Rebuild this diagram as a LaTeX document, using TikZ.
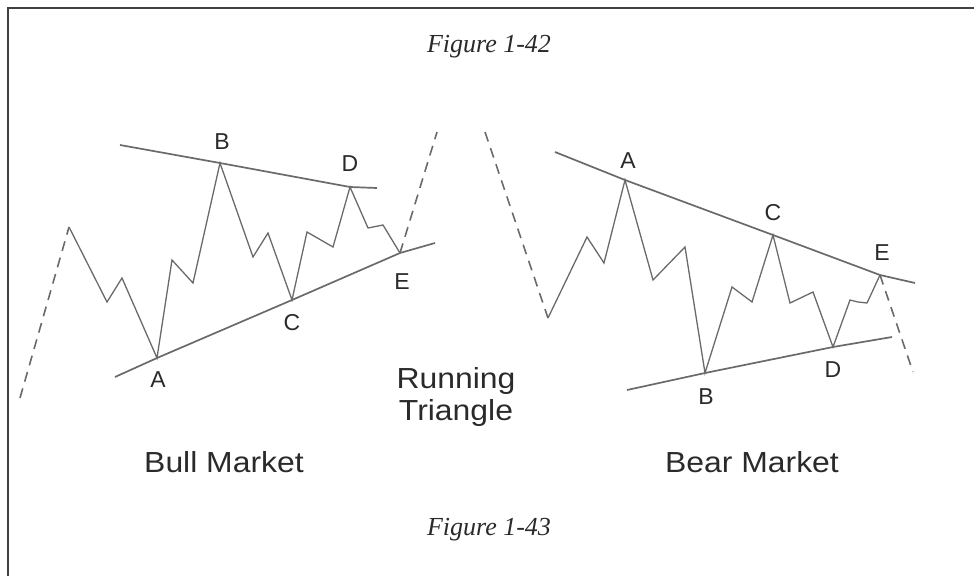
\documentclass[tikz,border=0pt]{standalone}
\usepackage{fontspec}
\setmainfont{Liberation Serif}
\setsansfont{Liberation Sans}
\usetikzlibrary{positioning}
\definecolor{wavegray}{HTML}{6A6A6A}
\definecolor{inkgray}{HTML}{2A2A2A}

\begin{document}
\begin{tikzpicture}[x=1pt, y=-1pt,
    wave/.style={wavegray, line width=1.3pt, line join=miter},
    trend/.style={wavegray, line width=1.7pt},
    lead/.style={wavegray, line width=1.6pt, dash pattern=on 10pt off 7pt},
    pivot/.style={font=\sffamily\fontsize{23}{23}\selectfont, text=inkgray, inner sep=0pt},
    market/.style={font=\sffamily\fontsize{29}{32}\selectfont, text=inkgray, align=center, xscale=1.1},
    caption/.style={font=\itshape\fontsize{26}{26}\selectfont, text=inkgray}
  ]
  \useasboundingbox (0,0) rectangle (974,576);
  % Frame (open to the right and bottom)
  \draw[line width=2.2pt, black!75] (8,576) -- (8,8) -- (974,8);

  % Bull market pivots
  \coordinate (bullS) at (20,398);
  \coordinate (bull0) at (69,227);
  \coordinate (bullA) at (157,358);
  \coordinate (bullB) at (220,163);
  \coordinate (bullC) at (292,300);
  \coordinate (bullD) at (350,187);
  \coordinate (bullE) at (400,253);
  \coordinate (bullX) at (437,132);

  % Bull market waves
  \draw[lead] (bullS) -- (bull0);
  \draw[wave] (bull0) -- (107,302) -- (122,278) -- (bullA) -- (172,260) -- (193,283)
    -- (bullB) -- (253,257) -- (268,233) -- (bullC) -- (307,232) -- (333,247)
    -- (bullD) -- (368,228) -- (383,225) -- (bullE);
  \draw[lead] (bullE) -- (bullX);
  \draw[trend] (120,145) -- (bullB) -- (bullD) -- (377,188);
  \draw[trend] (115,377) -- (bullA) -- (bullC) -- (bullE) -- (435,243);

  \node[pivot] (labBullA) at (158,380) {A};
  \node[pivot] (labBullB) at (222,142) {B};
  \node[pivot] (labBullC) at (292,323) {C};
  \node[pivot] (labBullD) at (350,164) {D};
  \node[pivot] (labBullE) at (402,282) {E};

  % Bear market pivots
  \coordinate (bearS) at (485,132);
  \coordinate (bear0) at (548,318);
  \coordinate (bearA) at (625,180);
  \coordinate (bearB) at (705,373);
  \coordinate (bearC) at (773,235);
  \coordinate (bearD) at (833,347);
  \coordinate (bearE) at (880,275);
  \coordinate (bearX) at (913,372);

  % Bear market waves
  \draw[lead] (bearS) -- (bear0);
  \draw[wave] (bear0) -- (587,237) -- (604,263) -- (bearA) -- (653,280) -- (685,247)
    -- (bearB) -- (732,287) -- (752,302) -- (bearC) -- (790,303) -- (813,292)
    -- (bearD) -- (850,300) -- (858,302) -- (867,303) -- (bearE);
  \draw[lead] (bearE) -- (bearX);
  \draw[trend] (555,152) -- (bearA) -- (bearC) -- (bearE) -- (915,283);
  \draw[trend] (627,390) -- (bearB) -- (bearD) -- (892,337);

  \node[pivot] (labBearA) at (628,161) {A};
  \node[pivot] (labBearB) at (706,397) {B};
  \node[pivot] (labBearC) at (773,213) {C};
  \node[pivot] (labBearD) at (833,370) {D};
  \node[pivot] (labBearE) at (882,253) {E};

  % Titles
  \node[caption] (fig42) at (489,47) {Figure 1-42};
  \node[caption] (fig43) at (489,530) {Figure 1-43};
  \node[market] (running) at (456,397) {Running\\Triangle};
  \node[market] (bull) at (224,462) {Bull Market};
  \node[market] (bear) at (752,462) {Bear Market};
\end{tikzpicture}
\end{document}
